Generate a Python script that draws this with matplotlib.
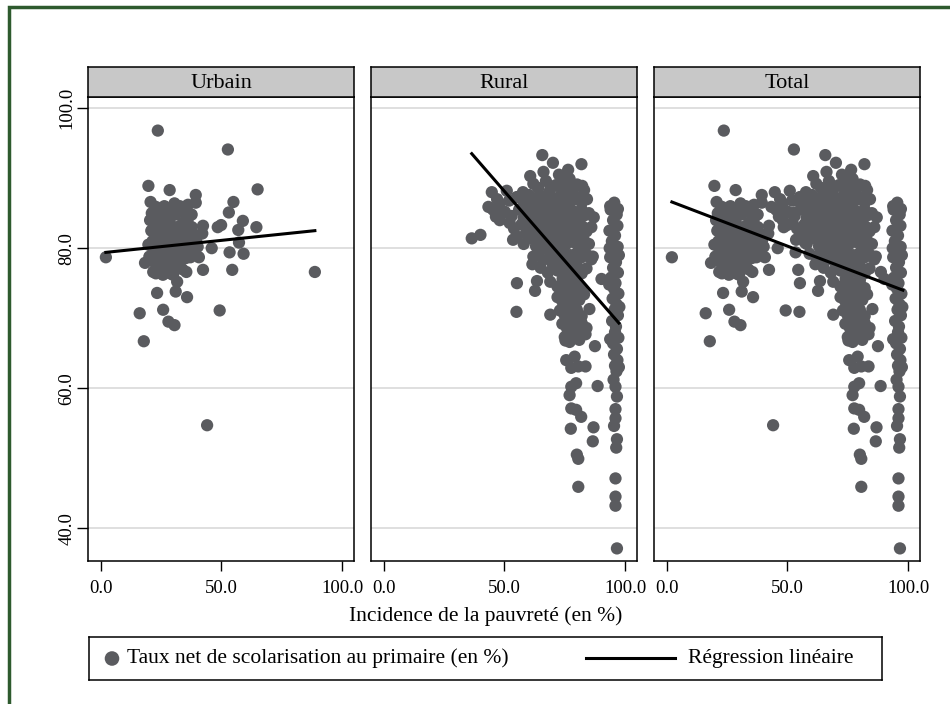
import numpy as np
import matplotlib
matplotlib.use("Agg")
import matplotlib.pyplot as plt
from matplotlib.patches import Rectangle

plt.rcParams["font.family"] = ["Liberation Serif", "DejaVu Serif"]

# poverty incidence (%), net primary enrolment (%)
urban_pts = [
    (2.2, 78.7), (16.2, 70.7), (17.9, 66.7), (18.4, 77.9), (19.8, 88.9), (20.7, 86.6),
    (22.9, 85.9), (23.7, 96.8), (23.4, 73.6), (22.9, 76.4), (25.9, 71.2), (28.1, 69.5),
    (28.6, 88.3), (28.6, 85.5), (30.6, 69.0), (30.0, 76.2), (31.7, 75.2), (31.1, 73.8),
    (35.8, 73.0), (35.5, 76.6), (35.5, 86.0), (37.2, 78.7), (37.7, 84.8), (39.4, 87.6),
    (39.4, 86.5), (40.7, 78.7), (42.1, 82.1), (42.4, 83.2), (42.4, 76.9), (44.1, 54.7),
    (46.0, 80.0), (48.5, 83.0), (49.3, 71.1), (49.9, 83.3), (52.7, 94.1), (53.1, 85.1),
    (53.4, 79.4), (54.5, 76.9), (55.0, 86.6), (57.0, 82.6), (57.3, 80.8), (58.9, 83.9),
    (59.2, 79.2), (64.5, 83.0), (65.0, 88.4), (88.7, 76.6),
    (20.5, 84.0), (21.0, 82.5), (21.5, 81.0), (22.0, 79.5), (22.5, 78.0), (23.0, 83.5),
    (23.5, 82.0), (24.0, 80.5), (24.5, 79.0), (25.0, 77.5), (25.5, 84.5), (26.0, 83.0),
    (26.5, 81.5), (27.0, 80.0), (27.5, 78.5), (28.0, 77.0), (28.5, 83.8), (29.0, 82.3),
    (29.5, 80.8), (30.0, 79.3), (30.5, 77.8), (31.0, 84.8), (31.5, 83.0), (32.0, 81.2),
    (32.5, 79.6), (33.0, 78.2), (33.5, 85.2), (34.0, 83.6), (34.5, 82.0), (35.0, 80.4),
    (36.0, 84.0), (36.5, 82.4), (37.0, 81.0), (38.0, 79.8), (21.2, 85.0), (22.2, 80.2),
    (23.8, 84.6), (24.8, 82.8), (25.2, 80.0), (26.2, 78.4), (26.8, 76.8), (27.8, 85.2),
    (28.2, 81.0), (29.2, 79.0), (29.8, 77.2), (30.2, 82.0), (31.2, 80.2), (32.2, 77.6),
    (33.2, 80.8), (34.2, 79.0), (27.0, 84.2), (24.0, 78.2), (22.8, 77.0), (25.8, 76.2),
    (28.8, 76.4), (31.8, 78.6), (33.8, 77.0), (35.4, 78.6), (19.8, 80.5), (20.2, 78.8),
    (21.8, 76.6), (36.2, 86.2), (32.8, 86.0), (30.6, 86.4), (26.4, 86.0), (24.2, 85.6),
    (37.8, 83.0), (38.6, 82.0), (39.6, 81.2), (40.2, 80.2),
]

rural_pts = [
    # scattered
    (36.5, 81.4), (40.1, 81.9), (43.4, 85.9), (44.8, 88.0), (48.1, 86.4), (55.0, 70.9),
    (55.2, 75.0), (57.7, 88.0), (60.7, 90.3), (61.6, 77.7), (62.7, 73.9), (63.5, 75.3),
    (65.7, 93.3), (66.2, 90.9), (69.0, 70.5), (70.1, 92.2), (72.6, 90.5), (74.2, 88.0),
    (76.4, 91.2), (77.0, 89.9), (81.9, 92.0), (82.2, 88.9), (83.3, 67.9), (85.2, 71.3),
    (86.6, 78.8), (90.2, 75.6), (49.5, 85.0), (45.3, 85.5), (48.1, 84.0), (52.2, 83.6),
    (55.0, 81.7), (53.6, 81.2), (59.1, 82.1), (47.0, 87.0), (51.0, 88.2), (46.5, 84.5),
    # main cloud
    (62.0, 89.2), (64.0, 88.6), (67.2, 89.6), (69.0, 88.4), (71.3, 89.0), (73.1, 88.7),
    (75.0, 89.4), (78.2, 88.5), (80.1, 89.1), (83.0, 88.3),
    (52.0, 86.8), (55.1, 87.3), (58.0, 86.5), (60.2, 87.6), (62.1, 86.9), (64.3, 87.4),
    (66.0, 86.4), (68.2, 87.8), (70.0, 86.7), (72.1, 87.2), (74.0, 86.3), (76.2, 87.5),
    (78.0, 86.8), (80.1, 87.3), (82.0, 86.5), (84.2, 87.0),
    (50.2, 85.2), (53.0, 84.6), (56.1, 85.5), (58.0, 84.3), (60.1, 85.7), (62.2, 84.8),
    (63.4, 85.9), (65.0, 84.4), (67.1, 85.3), (68.4, 84.1), (70.0, 85.8), (71.3, 84.6),
    (73.0, 85.1), (74.2, 84.2), (76.0, 85.6), (77.3, 84.5), (79.0, 85.2), (80.2, 84.0),
    (82.0, 85.5), (83.2, 84.7), (85.0, 85.0), (87.0, 84.4),
    (54.0, 82.8), (57.1, 83.4), (59.0, 82.2), (61.2, 83.6), (63.0, 82.5), (64.3, 83.1),
    (66.0, 82.1), (67.2, 83.7), (69.0, 82.6), (70.3, 83.2), (72.0, 82.3), (73.2, 83.8),
    (75.0, 82.7), (76.3, 83.3), (78.0, 82.0), (79.2, 83.5), (81.0, 82.8), (82.3, 83.1),
    (84.0, 82.4), (86.0, 83.0),
    (58.0, 80.6), (61.0, 81.4), (63.1, 80.3), (65.0, 81.7), (66.2, 80.8), (68.0, 81.2),
    (69.3, 80.2), (71.0, 81.6), (72.2, 80.7), (74.0, 81.3), (75.2, 80.4), (77.0, 81.8),
    (78.3, 80.9), (80.0, 81.5), (81.2, 80.1), (83.0, 81.1), (85.0, 80.6),
    (62.0, 78.8), (64.1, 79.5), (66.0, 78.3), (68.2, 79.7), (70.0, 78.6), (71.3, 79.2),
    (73.0, 78.1), (74.2, 79.6), (76.0, 78.5), (77.3, 79.0), (79.0, 78.2), (80.2, 79.4),
    (82.0, 78.7), (84.0, 79.1), (86.0, 78.4),
    (65.0, 77.2), (68.0, 76.5), (70.1, 77.6), (72.0, 76.8), (74.0, 77.4), (75.2, 76.2),
    (77.0, 77.0), (78.3, 76.6), (80.0, 77.5), (82.0, 76.4), (84.0, 77.1),
    (69.0, 75.2), (72.0, 74.5), (74.1, 75.6), (75.3, 74.2), (77.0, 75.0), (78.2, 74.6),
    (80.0, 75.4), (82.0, 74.3),
    (72.0, 73.0), (74.0, 72.4), (76.1, 73.5), (77.2, 72.2), (79.0, 73.2), (81.0, 72.6),
    (83.0, 73.4),
    (73.0, 71.1), (75.0, 70.4), (77.1, 71.5), (78.2, 70.6), (80.0, 71.2), (82.0, 70.3),
    (74.0, 69.2), (76.0, 68.5), (78.1, 69.6), (80.0, 68.8), (82.0, 69.3), (84.0, 68.6),
    (75.0, 67.3), (77.0, 66.6), (79.1, 67.5), (81.0, 66.9),
    # lower tail
    (75.3, 66.8), (83.6, 67.7), (87.5, 66.0), (75.6, 64.0), (79.1, 64.5), (80.6, 63.1),
    (83.6, 63.1), (77.7, 62.9), (79.7, 60.7), (77.7, 60.2), (77.0, 59.0), (88.6, 60.3),
    (77.7, 57.1), (79.7, 56.9), (81.8, 55.9), (77.5, 54.2), (86.9, 54.4), (86.6, 52.4),
    (80.0, 50.5), (80.6, 49.9), (80.6, 45.9),
    # column near 95-97 %
    (95.5, 86.5), (94.0, 85.5), (96.5, 84.8), (95.0, 84.0), (96.8, 83.2), (93.5, 82.5),
    (95.8, 81.8), (94.5, 81.0), (96.9, 80.2), (95.2, 79.5), (93.8, 78.7), (96.2, 78.0),
    (95.0, 77.2), (97.0, 76.5), (94.2, 75.8), (96.0, 75.0), (95.4, 74.2), (97.2, 73.5),
    (94.8, 72.8), (96.4, 72.0), (95.6, 71.2), (97.0, 70.4), (94.6, 69.6), (96.2, 68.8),
    (95.8, 68.0), (97.2, 67.2), (95.0, 66.4), (96.6, 65.6), (95.4, 64.8), (96.8, 64.0),
    (95.8, 63.2), (96.4, 62.4), (95.2, 61.2), (96.0, 60.2), (96.6, 58.8), (96.0, 57.0),
    (96.0, 55.7), (95.4, 54.6), (96.6, 52.7), (96.3, 51.5), (96.0, 47.1), (96.0, 44.5),
    (96.0, 43.2), (96.6, 37.1),
    (93.8, 86.0), (97.0, 85.6), (93.6, 80.0), (97.4, 79.0), (93.4, 74.8), (97.6, 71.6),
    (93.8, 67.0), (97.4, 63.0),
]

# fitted lines (start and end points)
urban_fit_x, urban_fit_y = [2.2, 88.7], [79.4, 82.5]
rural_fit_x, rural_fit_y = [36.5, 97.4], [93.5, 69.3]
total_fit_x, total_fit_y = [2.2, 97.8], [86.6, 74.0]

panels = ["Urbain", "Rural", "Total"]
xticks = [0, 50, 100]
yticks = [40, 60, 80, 100]

urban = np.array(urban_pts)
rural = np.array(rural_pts)
total = np.vstack([urban, rural])
data = [urban, rural, total]
fits = [(urban_fit_x, urban_fit_y), (rural_fit_x, rural_fit_y), (total_fit_x, total_fit_y)]

W, H = 950, 704
fig = plt.figure(figsize=(W / 100, H / 100), dpi=100)
fig.patch.set_facecolor("white")

# dark green frame
fig.add_artist(Rectangle((9 / W, -0.05), 1.1, 1 - 7 / H + 0.05, transform=fig.transFigure,
                         fill=False, edgecolor="#2e5a2e", linewidth=2.5))

dot = "#5a5b5f"
msize = 78
lefts = [88, 371, 654]
for i, name in enumerate(panels):
    ax = fig.add_axes([lefts[i] / W, 1 - 561 / H, 266 / W, 464 / H])
    ax.set_xlim(-5.2, 104.9)
    ax.set_ylim(35.3, 101.6)
    for yv in yticks:
        ax.axhline(yv, color="#dcdcdc", linewidth=1.3, zorder=0)
    d = data[i]
    ax.scatter(d[:, 0], d[:, 1], s=msize, color=dot, edgecolors="none", zorder=2)
    fx, fy = fits[i]
    ax.plot(fx, fy, color="black", linewidth=2.2, zorder=3)
    ax.set_xticks(xticks)
    ax.set_xticklabels([f"{v:.1f}" for v in xticks])
    ax.tick_params(axis="x", length=7, width=1, pad=7, labelsize=13.5)
    if i == 0:
        ax.set_yticks(yticks)
        ax.set_yticklabels([f"{v:.1f}" for v in yticks], rotation=90, va="center")
        ax.tick_params(axis="y", length=8, width=1, pad=1, labelsize=13.5)
    else:
        ax.set_yticks([])
    for s in ax.spines.values():
        s.set_linewidth(1.1)

    # header strip
    hx = fig.add_axes([lefts[i] / W, 1 - 97 / H, 266 / W, 30 / H])
    hx.set_facecolor("#c8c8c8")
    hx.set_xticks([])
    hx.set_yticks([])
    for s in hx.spines.values():
        s.set_linewidth(1.1)
    hx.text(0.5, 0.45, name, ha="center", va="center", fontsize=16, transform=hx.transAxes)

fig.text(486 / W, 1 - 616 / H, "Incidence de la pauvreté (en %)", ha="center", va="center",
         fontsize=15.5)

# legend box
lg = fig.add_axes([89 / W, 1 - 680 / H, 793 / W, 43 / H])
lg.set_xlim(0, 793)
lg.set_ylim(0, 43)
lg.set_xticks([])
lg.set_yticks([])
for s in lg.spines.values():
    s.set_linewidth(1.1)
lg.scatter([23], [21.5], s=110, color=dot, edgecolors="none")
lg.text(38, 21.5, "Taux net de scolarisation au primaire (en %)", va="center", fontsize=15.5)
lg.plot([497, 586], [22, 22], color="black", linewidth=2.2)
lg.text(599, 21.5, "Régression linéaire", va="center", fontsize=15.5)

fig.savefig("out.png", dpi=100)
